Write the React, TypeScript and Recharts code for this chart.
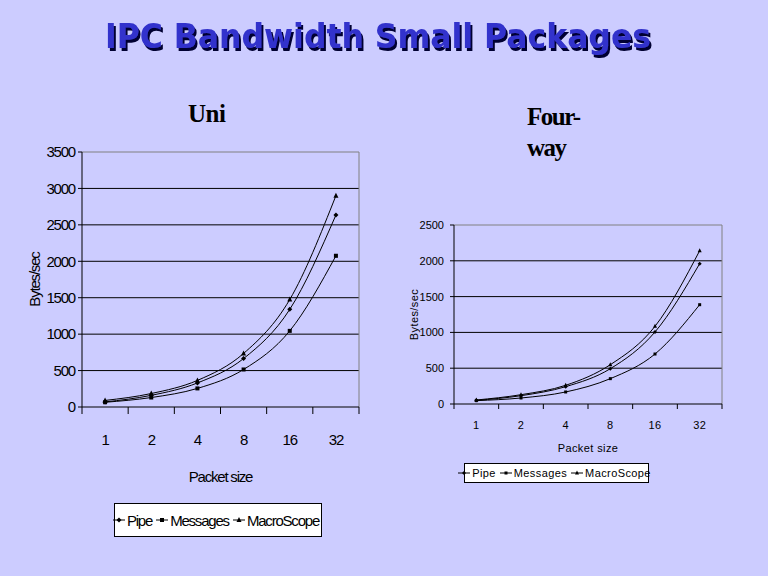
import React from 'react';
import { LineChart, Line, XAxis, YAxis, CartesianGrid, ReferenceLine, Legend } from 'recharts';

// ---------- data ----------
const packetSizes = ['1', '2', '4', '8', '16', '32'];
const seriesNames = ['Pipe', 'Messages', 'MacroScope'];

const uniPipe = [70, 160, 330, 665, 1340, 2635];
const uniMessages = [65, 130, 255, 515, 1045, 2075];
const uniMacroScope = [90, 185, 365, 735, 1475, 2900];

const fourPipe = [51, 116, 242, 493, 1006, 1960];
const fourMessages = [47, 84, 168, 354, 698, 1387];
const fourMacroScope = [56, 130, 261, 549, 1085, 2141];

const uniYTicks = [0, 500, 1000, 1500, 2000, 2500, 3000, 3500];
const fourYTicks = [0, 500, 1000, 1500, 2000, 2500];

const titleText = 'IPC Bandwidth Small Packages';
const uniTitle = 'Uni';
const fourTitle1 = 'Four-';
const fourTitle2 = 'way';
const xTitle = 'Packet size';
const yTitle = 'Bytes/sec';

const uniData = packetSizes.map((s, i) => ({
  size: s,
  Pipe: uniPipe[i],
  Messages: uniMessages[i],
  MacroScope: uniMacroScope[i],
}));
const fourData = packetSizes.map((s, i) => ({
  size: s,
  Pipe: fourPipe[i],
  Messages: fourMessages[i],
  MacroScope: fourMacroScope[i],
}));

const markerShapes: Record<string, string> = {
  Pipe: 'diamond',
  Messages: 'square',
  MacroScope: 'triangle',
};

function markerPath(shape: string, cx: number, cy: number, s: number) {
  if (shape === 'diamond') return `M${cx},${cy - s}L${cx + s},${cy}L${cx},${cy + s}L${cx - s},${cy}Z`;
  if (shape === 'square') return `M${cx - s + 0.5},${cy - s + 0.5}h${2 * s - 1}v${2 * s - 1}h${-(2 * s - 1)}Z`;
  return `M${cx},${cy - s - 0.5}L${cx + s},${cy + s - 0.5}L${cx - s},${cy + s - 0.5}Z`;
}

const makeDot = (shape: string, s: number) => (props: any) => {
  const { cx, cy, index } = props;
  if (cx == null || cy == null) return <g key={`d${index}`} />;
  return <path key={`d${shape}${index}`} d={markerPath(shape, cx, cy, s)} fill="#000" stroke="none" />;
};

const FONT = 'Arial, "Liberation Sans", sans-serif';

type ChartProps = {
  data: any[];
  yMax: number;
  yTicks: number[];
  width: number;
  height: number;
  margin: { top: number; right: number; bottom: number; left: number };
  fontSize: number;
  letterSpacing: number;
  yLetterSpacing: number;
  xTickSize: number;
  xLabelDy: number;
  xLabelOffset: number;
  yLabelOffset: number;
  yTickMargin: number;
  markerSize: number;
  legendStyle: React.CSSProperties;
  legendFont: number;
  legendSpacing: number;
};

function SmallChart(p: ChartProps) {
  const textStyle = { fontFamily: FONT, fontSize: p.fontSize, letterSpacing: p.letterSpacing, fill: '#000' };
  const yTextStyle = { ...textStyle, letterSpacing: p.yLetterSpacing };
  const plotWidth = p.width - p.margin.left - p.margin.right - 60;
  const halfBand = plotWidth / packetSizes.length / 2;

  const CatTick = (tp: any) => {
    const { x, y, payload, index } = tp;
    const last = index === packetSizes.length - 1;
    return (
      <g>
        <line x1={x - halfBand} y1={y} x2={x - halfBand} y2={y + p.xTickSize} stroke="#000" />
        {last && <line x1={x + halfBand} y1={y} x2={x + halfBand} y2={y + p.xTickSize} stroke="#000" />}
        <text x={x} y={y + p.xLabelDy} dy="0.71em" textAnchor="middle" style={textStyle}>
          {payload.value}
        </text>
      </g>
    );
  };

  const renderLegend = () => (
    <div
      style={{
        border: '1px solid #000',
        background: '#fff',
        boxSizing: 'border-box',
        width: '100%',
        height: '100%',
        display: 'flex',
        alignItems: 'center',
        justifyContent: 'center',
        fontFamily: FONT,
        fontSize: p.legendFont,
        letterSpacing: p.legendSpacing,
        color: '#000',
        whiteSpace: 'nowrap',
      }}
    >
      {seriesNames.map((n) => (
        <span key={n} style={{ display: 'inline-flex', alignItems: 'center', marginRight: 4 }}>
          <svg width={12} height={10} style={{ marginRight: 2 }}>
            <line x1={0} y1={5} x2={12} y2={5} stroke="#000" strokeWidth={1} />
            <path d={markerPath(markerShapes[n], 6, 5, p.markerSize)} fill="#000" />
          </svg>
          {n}
        </span>
      ))}
    </div>
  );
  return (
    <LineChart width={p.width} height={p.height} data={p.data} margin={p.margin}>
      <CartesianGrid horizontal vertical={false} stroke="#000" horizontalValues={p.yTicks.slice(1, -1)} />
      <XAxis
        dataKey="size"
        type="category"
        scale="band"
        height={1}
        axisLine={{ stroke: '#000' }}
        tickLine={false}
        tickSize={0}
        tickMargin={0}
        interval={0}
        tick={CatTick}
        label={{ value: xTitle, position: 'bottom', offset: p.xLabelOffset, style: textStyle }}
      />
      <YAxis
        domain={[0, p.yMax]}
        ticks={p.yTicks}
        interval={0}
        width={60}
        tickSize={4}
        tickMargin={p.yTickMargin}
        axisLine={{ stroke: '#000' }}
        tickLine={{ stroke: '#000' }}
        tick={yTextStyle}
        allowDataOverflow
        label={{
          value: yTitle,
          angle: -90,
          position: 'insideLeft',
          offset: p.yLabelOffset,
          style: { ...textStyle, textAnchor: 'middle' },
        }}
      />
      <ReferenceLine y={p.yMax} stroke="#808080" />
      <ReferenceLine x={packetSizes[packetSizes.length - 1]} position="end" stroke="#808080" />
      {seriesNames.map((n) => (
        <Line
          key={n}
          dataKey={n}
          name={n}
          type="monotone"
          stroke="#000"
          strokeWidth={1}
          dot={makeDot(markerShapes[n], p.markerSize)}
          activeDot={false}
          isAnimationActive={false}
        />
      ))}
      <Legend
        layout="vertical"
        align="center"
        verticalAlign="middle"
        content={renderLegend}
        wrapperStyle={p.legendStyle}
      />
    </LineChart>
  );
}

export default function App() {
  return (
    <div
      style={{
        position: 'absolute',
        left: 0,
        top: 0,
        width: 768,
        height: 576,
        background: '#CCCCFF',
        overflow: 'hidden',
      }}
    >
      <svg width={768} height={70} style={{ position: 'absolute', left: 0, top: 0 }}>
        <defs>
          <filter id="titleShadow" x="-5%" y="-20%" width="110%" height="150%">
            <feDropShadow dx={2} dy={3} stdDeviation={0} floodColor="#000033" floodOpacity={1} />
          </filter>
        </defs>
        <text
          x={105}
          y={48}
          textLength={546}
          lengthAdjust="spacingAndGlyphs"
          filter="url(#titleShadow)"
          style={{ fontFamily: '"DejaVu Sans", sans-serif', fontWeight: 'bold', fontSize: 34, fill: '#3333CC' }}
        >
          {titleText}
        </text>
      </svg>
      <div
        style={{
          position: 'absolute',
          left: 188,
          top: 99,
          fontFamily: '"Liberation Serif", "Times New Roman", serif',
          fontWeight: 'bold',
          fontSize: 25,
          letterSpacing: -0.5,
          lineHeight: '30px',
          color: '#000',
        }}
      >
        {uniTitle}
      </div>
      <div
        style={{
          position: 'absolute',
          left: 527,
          top: 101,
          fontFamily: '"Liberation Serif", "Times New Roman", serif',
          fontWeight: 'bold',
          fontSize: 25,
          letterSpacing: -1.5,
          lineHeight: '31px',
          color: '#000',
        }}
      >
        <div>{fourTitle1}</div>
        <div>{fourTitle2}</div>
      </div>
      <div style={{ position: 'absolute', left: 0, top: 0 }}>
        <SmallChart
          data={uniData}
          yMax={3500}
          yTicks={uniYTicks}
          width={380}
          height={576}
          margin={{ top: 152, right: 21, bottom: 168, left: 22 }}
          fontSize={15}
          letterSpacing={-1.2}
          yLetterSpacing={-1.2}
          xTickSize={7}
          xLabelDy={27}
          xLabelOffset={63}
          yLabelOffset={13}
          yTickMargin={3}
          markerSize={2.5}
          legendFont={15}
          legendSpacing={-1.2}
          legendStyle={{ position: 'absolute', left: 114, top: 503, width: 208, height: 34 }}
        />
      </div>
      <div style={{ position: 'absolute', left: 380, top: 0 }}>
        <SmallChart
          data={fourData}
          yMax={2500}
          yTicks={fourYTicks}
          width={388}
          height={576}
          margin={{ top: 225, right: 46, bottom: 171, left: 14 }}
          fontSize={11}
          letterSpacing={0.4}
          yLetterSpacing={0}
          xTickSize={5}
          xLabelDy={17}
          xLabelOffset={39}
          yLabelOffset={20}
          yTickMargin={6}
          markerSize={2}
          legendFont={11}
          legendSpacing={0.4}
          legendStyle={{ position: 'absolute', left: 84, top: 463, width: 185, height: 20 }}
        />
      </div>
    </div>
  );
}
